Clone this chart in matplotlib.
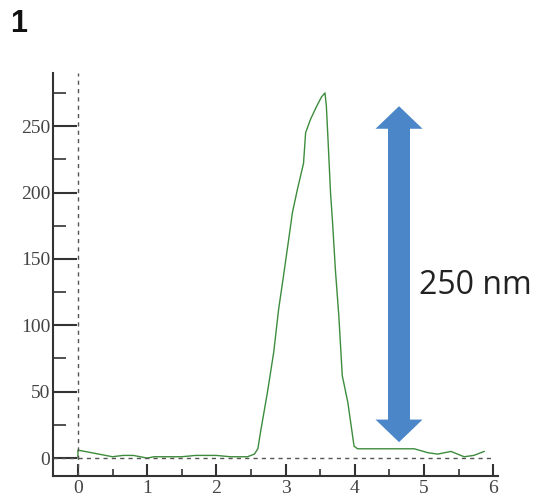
import matplotlib.pyplot as plt
from matplotlib.patches import FancyArrow
from matplotlib.ticker import MultipleLocator

# profile (distance, height)
dist = [0.0, 0.0, 0.1, 0.3, 0.5, 0.65, 0.8, 1.0, 1.1, 1.3, 1.5, 1.7, 2.0, 2.2,
        2.45, 2.55, 2.6, 2.64, 2.74, 2.83, 2.9, 2.97, 3.03, 3.10, 3.17, 3.26,
        3.29, 3.36, 3.45, 3.52, 3.57, 3.59, 3.61, 3.65, 3.68, 3.72, 3.77, 3.82,
        3.90, 3.99, 4.04, 4.5, 4.86, 5.06, 5.2, 5.39, 5.58, 5.72, 5.87]
height = [0, 6, 5, 3, 1, 2, 2, 0, 1, 1, 1, 2, 2, 1,
          1, 3, 7, 20, 50, 80, 112, 137, 159, 185, 202, 222,
          245, 255, 265, 272, 275, 265, 244, 200, 177, 142, 107, 62,
          42, 9, 7, 7, 7, 4, 3, 5, 1, 2, 5]

x_ticks = [0, 1, 2, 3, 4, 5, 6]
y_ticks = [0, 50, 100, 150, 200, 250]
step_label = "250 nm"
panel_label = "1"

arrow_x = 4.64
arrow_lo, arrow_hi = 12, 265

fig = plt.figure(figsize=(5.57, 5.01), dpi=100)
ax = fig.add_axes([53 / 557, 25 / 501, 445 / 557, 403 / 501])

ax.plot(dist, height, color="#3d8c3d", lw=1.0)

ax.axvline(0, color="#555555", lw=1, ls=(0, (3, 3)))
ax.axhline(0, xmax=(6 - -0.36) / (6.07 - -0.36), color="#555555", lw=1, ls=(0, (3, 3)))

ax.set_xlim(-0.36, 6.07)
ax.set_ylim(-13.5, 290)

for s in ["top", "right"]:
    ax.spines[s].set_visible(False)
for s in ["left", "bottom"]:
    ax.spines[s].set_color("#333333")
    ax.spines[s].set_linewidth(1.5)

ax.set_xticks(x_ticks)
ax.set_yticks(y_ticks)
ax.xaxis.set_minor_locator(MultipleLocator(0.5))
ax.yaxis.set_minor_locator(MultipleLocator(25))
ax.tick_params(axis="y", which="major", direction="in", length=17, width=1.5,
               color="#333333", pad=2)
ax.tick_params(axis="y", which="minor", direction="in", length=9, width=1.2,
               color="#333333")
ax.tick_params(axis="x", which="major", direction="in", length=9, width=1.5,
               color="#333333", pad=3)
ax.tick_params(axis="x", which="minor", direction="in", length=5, width=1.2,
               color="#333333")
for lab in ax.get_xticklabels() + ax.get_yticklabels():
    lab.set_fontfamily("Liberation Serif")
    lab.set_fontsize(14)
    lab.set_color("#444444")

# double arrow marking the step height: shaft + two heads
arrow_col = "#4a86c8"
head_len = 17
ax.bar(arrow_x, arrow_hi - arrow_lo - 2 * head_len + 2, bottom=arrow_lo + head_len - 1,
       width=0.33, color=arrow_col, lw=0)
ax.add_patch(FancyArrow(arrow_x, arrow_hi - head_len, 0, head_len, width=0.0,
                        head_width=0.68, head_length=head_len,
                        length_includes_head=True, color=arrow_col, lw=0))
ax.add_patch(FancyArrow(arrow_x, arrow_lo + head_len, 0, -head_len, width=0.0,
                        head_width=0.68, head_length=head_len,
                        length_includes_head=True, color=arrow_col, lw=0))

fig.text(419 / 557, 1 - 285 / 501, step_label, fontsize=23, family="Open Sans",
         color="#222222", va="center", ha="left")
fig.text(10 / 557, 1 - 24 / 501, panel_label, fontsize=22, fontweight="bold",
         family="Liberation Sans", color="#111111", va="center", ha="left")

fig.savefig("out.png", dpi=100)
